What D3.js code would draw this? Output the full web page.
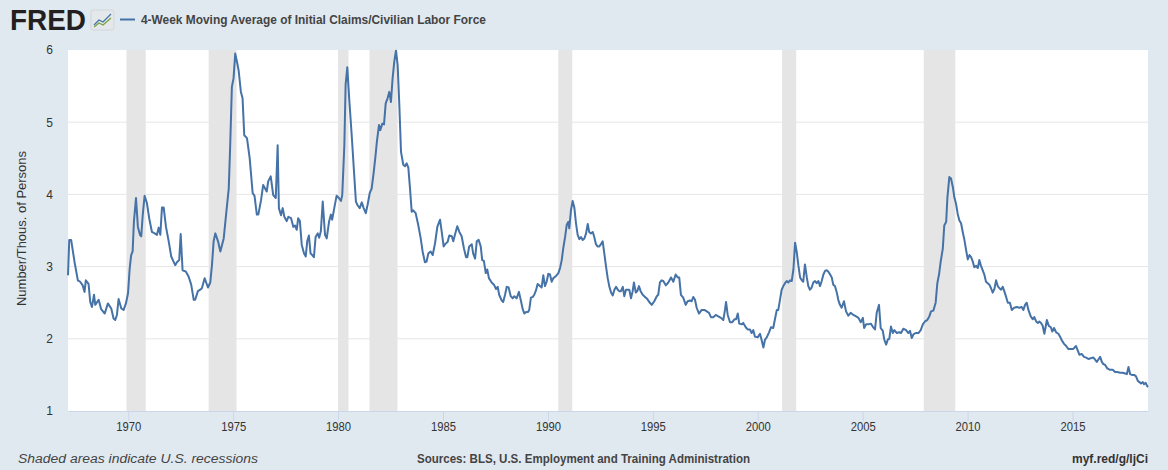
<!DOCTYPE html>
<html>
<head>
<meta charset="utf-8">
<script src="https://cdn.jsdelivr.net/npm/d3@7"></script>
<style>
  html, body { margin: 0; padding: 0; background: #e1e9f0; }
  svg { display: block; }
  text { font-family: "Liberation Sans", Arial, sans-serif; }
</style>
</head>
<body>
<div id="chart"></div>
<script>
// series: [decimal year, claims per thousand persons in labor force]
let claims1967 = [
  [1967.13,2.88],[1967.19,3.37],[1967.28,3.37],[1967.45,3.05],[1967.60,2.81],[1967.71,2.79],[1967.83,2.74],[1967.92,2.65],
  [1967.98,2.81],[1968.11,2.76],[1968.19,2.51],[1968.27,2.44],[1968.37,2.61],[1968.43,2.47],[1968.59,2.54],[1968.71,2.41],
  [1968.88,2.35],[1969.03,2.49],[1969.19,2.42],[1969.30,2.28],[1969.38,2.26],[1969.46,2.33],[1969.54,2.55],[1969.67,2.42],
  [1969.78,2.40],[1969.89,2.49],[1969.99,2.63],[1970.07,2.98],[1970.14,3.16],[1970.21,3.21],[1970.27,3.62],[1970.37,3.95],
  [1970.46,3.55],[1970.56,3.44],[1970.62,3.42],[1970.69,3.71],[1970.78,3.98],[1970.89,3.88],[1971.00,3.67],[1971.13,3.48],
  [1971.26,3.46],[1971.37,3.44],[1971.45,3.54],[1971.53,3.44],[1971.61,3.82],[1971.69,3.82],[1971.80,3.55],[1971.93,3.35],
  [1972.05,3.14],[1972.16,3.07],[1972.24,3.02],[1972.32,3.06],[1972.43,3.09],[1972.50,3.45],[1972.59,2.95],[1972.75,2.93],
  [1972.88,2.86],[1973.00,2.75],[1973.12,2.54],[1973.19,2.54],[1973.32,2.66],[1973.43,2.68],[1973.51,2.70],[1973.64,2.84],
  [1973.80,2.71],[1973.91,2.78],[1973.99,3.02],[1974.07,3.35],[1974.15,3.46],[1974.28,3.35],[1974.39,3.21],[1974.55,3.39],
  [1974.66,3.71],[1974.79,4.08],[1974.86,4.68],[1974.94,5.49],[1975.02,5.61],[1975.10,5.95],[1975.18,5.84],[1975.26,5.72],
  [1975.37,5.42],[1975.45,5.33],[1975.53,4.82],[1975.66,4.78],[1975.79,4.50],[1975.93,4.02],[1976.02,3.98],[1976.13,3.72],
  [1976.20,3.72],[1976.33,3.92],[1976.43,4.13],[1976.60,4.04],[1976.67,4.18],[1976.79,4.25],[1976.91,3.99],[1977.03,3.95],
  [1977.12,4.68],[1977.18,3.81],[1977.28,3.71],[1977.36,3.81],[1977.44,3.69],[1977.55,3.63],[1977.63,3.69],[1977.76,3.67],
  [1977.87,3.55],[1977.95,3.57],[1978.03,3.51],[1978.10,3.67],[1978.18,3.63],[1978.27,3.30],[1978.38,3.18],[1978.46,3.14],
  [1978.53,3.35],[1978.61,3.43],[1978.69,3.18],[1978.77,3.16],[1978.85,3.13],[1978.93,3.41],[1979.03,3.46],[1979.10,3.40],
  [1979.18,3.49],[1979.27,3.90],[1979.38,3.44],[1979.46,3.39],[1979.57,3.62],[1979.66,3.72],[1979.72,3.65],[1979.82,3.81],
  [1979.93,3.98]
];
let claims1980 = [
  [1980.04,3.95],[1980.14,3.91],[1980.20,3.99],[1980.30,4.68],[1980.36,5.52],[1980.44,5.76],[1980.53,5.33],[1980.65,4.82],
  [1980.76,4.31],[1980.85,3.90],[1980.93,3.85],[1981.03,3.81],[1981.13,3.89],[1981.22,3.81],[1981.32,3.74],[1981.41,3.86],
  [1981.51,4.02],[1981.60,4.08],[1981.70,4.31],[1981.79,4.55],[1981.85,4.73],[1981.95,4.96],[1982.01,4.89],[1982.11,4.98],
  [1982.19,4.97],[1982.27,5.26],[1982.36,5.33],[1982.44,5.42],[1982.52,5.28],[1982.60,5.61],[1982.68,5.84],[1982.76,5.99],
  [1982.84,5.79],[1982.92,5.24],[1983.00,4.59],[1983.11,4.41],[1983.19,4.39],[1983.27,4.43],[1983.35,4.37],[1983.43,4.08],
  [1983.51,3.76],[1983.58,3.78],[1983.70,3.74],[1983.82,3.58],[1983.94,3.39],[1984.03,3.21],[1984.14,3.06],[1984.22,3.07],
  [1984.30,3.18],[1984.41,3.21],[1984.51,3.16],[1984.62,3.32],[1984.73,3.55],[1984.86,3.65],[1984.94,3.48],[1985.03,3.28],
  [1985.13,3.32],[1985.22,3.34],[1985.30,3.43],[1985.42,3.42],[1985.49,3.35],[1985.57,3.44],[1985.68,3.56],[1985.78,3.48],
  [1985.89,3.42],[1986.00,3.25],[1986.10,3.13],[1986.16,3.13],[1986.25,3.28],[1986.37,3.31],[1986.44,3.18],[1986.53,3.11],
  [1986.61,3.35],[1986.70,3.37],[1986.80,3.28],[1986.87,3.09],[1986.95,3.08],[1987.04,2.91],[1987.11,2.96],[1987.19,2.84],
  [1987.32,2.78],[1987.43,2.75],[1987.53,2.69],[1987.61,2.72],[1987.68,2.61],[1987.80,2.53],[1987.87,2.51],[1987.96,2.61],
  [1988.04,2.72],[1988.13,2.71],[1988.23,2.59],[1988.32,2.56],[1988.40,2.59],[1988.51,2.56],[1988.62,2.65],[1988.72,2.52],
  [1988.80,2.41],[1988.88,2.35],[1988.96,2.37],[1989.05,2.37],[1989.11,2.40],[1989.19,2.57],[1989.28,2.58],[1989.35,2.61],
  [1989.43,2.67],[1989.51,2.76],[1989.62,2.73],[1989.70,2.71],[1989.78,2.88],[1989.86,2.73],[1989.94,2.79]
];
let claims1990 = [
  [1990.02,2.90],[1990.10,2.89],[1990.18,2.79],[1990.26,2.84],[1990.39,2.87],[1990.50,2.91],[1990.58,2.98],[1990.66,3.09],
  [1990.73,3.25],[1990.82,3.41],[1990.90,3.58],[1990.97,3.62],[1991.02,3.53],[1991.10,3.78],[1991.18,3.91],[1991.26,3.82],
  [1991.34,3.60],[1991.42,3.44],[1991.50,3.38],[1991.58,3.41],[1991.66,3.37],[1991.74,3.39],[1991.82,3.46],[1991.90,3.59],
  [1991.97,3.48],[1992.05,3.46],[1992.14,3.48],[1992.21,3.41],[1992.29,3.31],[1992.37,3.28],[1992.45,3.28],[1992.53,3.31],
  [1992.61,3.35],[1992.69,3.18],[1992.77,3.00],[1992.85,2.84],[1992.93,2.72],[1993.01,2.64],[1993.09,2.60],[1993.17,2.68],
  [1993.25,2.72],[1993.33,2.68],[1993.40,2.66],[1993.48,2.66],[1993.57,2.72],[1993.64,2.59],[1993.72,2.68],[1993.80,2.68],
  [1993.88,2.68],[1993.96,2.56],[1994.04,2.66],[1994.10,2.78],[1994.19,2.64],[1994.26,2.66],[1994.34,2.73],[1994.42,2.66],
  [1994.52,2.61],[1994.63,2.58],[1994.74,2.55],[1994.83,2.51],[1994.95,2.47],[1995.07,2.52],[1995.19,2.59],[1995.26,2.61],
  [1995.34,2.78],[1995.42,2.81],[1995.50,2.80],[1995.62,2.74],[1995.74,2.78],[1995.87,2.85],[1995.98,2.79],[1996.09,2.89],
  [1996.19,2.85],[1996.26,2.85],[1996.34,2.61],[1996.45,2.57],[1996.57,2.47],[1996.66,2.52],[1996.77,2.53],[1996.85,2.52],
  [1996.93,2.58],[1997.01,2.54],[1997.09,2.43],[1997.20,2.35],[1997.33,2.40],[1997.46,2.40],[1997.57,2.38],[1997.68,2.36],
  [1997.77,2.30],[1997.88,2.30],[1998.00,2.33],[1998.12,2.31],[1998.25,2.29],[1998.36,2.26],[1998.44,2.40],[1998.49,2.51],
  [1998.57,2.33],[1998.68,2.23],[1998.79,2.23],[1998.89,2.27],[1998.97,2.27],[1999.05,2.35],[1999.12,2.21],[1999.24,2.20],
  [1999.31,2.22],[1999.43,2.16],[1999.52,2.13],[1999.63,2.13],[1999.71,2.08],[1999.79,2.12],[1999.87,2.03]
];
let claims2000 = [
  [2000.00,2.02],[2000.11,2.07],[2000.19,1.98],[2000.27,1.88],[2000.35,1.99],[2000.43,2.02],[2000.54,2.09],[2000.63,2.16],
  [2000.74,2.15],[2000.82,2.27],[2000.91,2.40],[2000.98,2.40],[2001.06,2.54],[2001.14,2.68],[2001.22,2.73],[2001.30,2.77],
  [2001.38,2.80],[2001.46,2.78],[2001.54,2.81],[2001.62,2.80],[2001.70,2.96],[2001.78,3.33],[2001.86,3.20],[2001.94,3.01],
  [2002.02,2.85],[2002.10,2.81],[2002.17,2.79],[2002.25,3.03],[2002.34,2.85],[2002.41,2.73],[2002.49,2.68],[2002.57,2.71],
  [2002.65,2.78],[2002.73,2.80],[2002.81,2.77],[2002.89,2.80],[2002.97,2.73],[2003.05,2.80],[2003.13,2.89],[2003.21,2.94],
  [2003.29,2.95],[2003.37,2.93],[2003.45,2.89],[2003.53,2.85],[2003.60,2.75],[2003.68,2.73],[2003.77,2.64],[2003.84,2.54],
  [2003.92,2.47],[2004.00,2.43],[2004.11,2.52],[2004.21,2.38],[2004.32,2.32],[2004.43,2.36],[2004.56,2.33],[2004.69,2.31],
  [2004.80,2.29],[2004.91,2.23],[2005.01,2.29],[2005.07,2.15],[2005.16,2.20],[2005.27,2.20],[2005.39,2.21],[2005.48,2.17],
  [2005.59,2.13],[2005.67,2.36],[2005.78,2.47],[2005.86,2.15],[2005.96,2.11],[2006.03,1.99],[2006.12,1.92],[2006.20,1.99],
  [2006.27,2.00],[2006.35,2.17],[2006.44,2.08],[2006.51,2.12],[2006.63,2.08],[2006.74,2.09],[2006.83,2.08],[2006.94,2.14],
  [2007.07,2.12],[2007.18,2.08],[2007.26,2.11],[2007.34,2.01],[2007.42,2.06],[2007.53,2.08],[2007.66,2.08],[2007.77,2.12],
  [2007.87,2.20],[2007.97,2.24],[2008.08,2.26],[2008.18,2.31],[2008.26,2.38],[2008.37,2.39],[2008.48,2.50],[2008.56,2.77],
  [2008.64,2.89],[2008.72,3.07],[2008.82,3.25],[2008.89,3.57],[2008.98,3.62],[2009.04,3.96],[2009.13,4.24],[2009.21,4.22],
  [2009.30,4.10],[2009.37,3.96],[2009.45,3.87],[2009.53,3.73],[2009.61,3.64],[2009.69,3.60],[2009.77,3.48],[2009.85,3.37],
  [2009.93,3.23]
];
let claims2010 = [
  [2010.01,3.10],[2010.09,3.16],[2010.17,3.13],[2010.25,3.07],[2010.32,2.99],[2010.41,3.01],[2010.49,2.98],[2010.56,3.09],
  [2010.64,3.01],[2010.72,2.95],[2010.80,2.89],[2010.88,2.79],[2010.96,2.77],[2011.04,2.75],[2011.12,2.70],[2011.20,2.64],
  [2011.28,2.69],[2011.36,2.81],[2011.44,2.73],[2011.52,2.70],[2011.60,2.68],[2011.68,2.72],[2011.75,2.66],[2011.84,2.58],
  [2011.92,2.50],[2012.02,2.50],[2012.11,2.40],[2012.22,2.43],[2012.35,2.44],[2012.47,2.43],[2012.58,2.44],[2012.66,2.40],
  [2012.74,2.47],[2012.82,2.50],[2012.90,2.40],[2013.01,2.31],[2013.11,2.27],[2013.18,2.30],[2013.27,2.24],[2013.35,2.22],
  [2013.42,2.24],[2013.50,2.22],[2013.58,2.18],[2013.66,2.07],[2013.78,2.26],[2013.87,2.18],[2013.97,2.16],[2014.04,2.10],
  [2014.12,2.15],[2014.22,2.09],[2014.33,2.07],[2014.41,2.03],[2014.49,1.98],[2014.60,1.93],[2014.70,1.90],[2014.80,1.86],
  [2014.92,1.86],[2015.04,1.86],[2015.17,1.90],[2015.25,1.84],[2015.33,1.78],[2015.44,1.79],[2015.55,1.75],[2015.65,1.74],
  [2015.76,1.72],[2015.87,1.73],[2016.00,1.74],[2016.08,1.71],[2016.16,1.68],[2016.23,1.71],[2016.32,1.75],[2016.40,1.68],
  [2016.47,1.65],[2016.55,1.64],[2016.66,1.59],[2016.79,1.57],[2016.92,1.57],[2017.03,1.54],[2017.14,1.54],[2017.27,1.53],
  [2017.40,1.53],[2017.51,1.52],[2017.59,1.51],[2017.67,1.61],[2017.75,1.51],[2017.83,1.50],[2017.94,1.50],[2018.03,1.48],
  [2018.11,1.42],[2018.19,1.40],[2018.27,1.38],[2018.35,1.40],[2018.41,1.37],[2018.49,1.39],[2018.57,1.34],[2018.60,1.33]
];

let recessions = [
  ['1969-12-01', '1970-11-01'], ['1973-11-01', '1975-03-01'], ['1980-01-01', '1980-07-01'],
  ['1981-07-01', '1982-11-01'], ['1990-07-01', '1991-03-01'], ['2001-03-01', '2001-11-01'],
  ['2007-12-01', '2009-06-01']
];
let yTicks = [1, 2, 3, 4, 5, 6];
let seriesTitle = '4-Week Moving Average of Initial Claims/Civilian Labor Force';
let yTitle = 'Number/Thous. of Persons';

let W = 1168, H = 470;
let margin = {top: 50, left: 68, right: 20, bottom: 59};
let plotW = W - margin.left - margin.right;
let plotH = H - margin.top - margin.bottom;

let decYear = function(y){
  let yr = Math.floor(y);
  let s = Date.UTC(yr, 0, 1), e = Date.UTC(yr + 1, 0, 1);
  return new Date(s + (y - yr) * (e - s));
};
let parse = d3.utcParse('%Y-%m-%d');

let data = claims1967.concat(claims1980, claims1990, claims2000, claims2010)
  .map(d => ({date: decYear(d[0]), value: d[1]}));

let svg = d3.select('#chart').append('svg').attr('width', W).attr('height', H);
svg.append('rect').attr('width', W).attr('height', H).attr('fill', '#e1e9f0');

let x = d3.scaleUtc().domain(d3.extent(data, d => d.date)).range([0, plotW]);
let y = d3.scaleLinear().domain([1, 6]).range([plotH, 0]);

let g = svg.append('g').attr('transform', 'translate(' + [margin.left, margin.top] + ')');
g.append('rect').attr('width', plotW).attr('height', plotH).attr('fill', '#ffffff');

// recession shading
g.selectAll('.rec').data(recessions).enter().append('rect').attr('class', 'rec')
  .attr('x', d => x(parse(d[0])))
  .attr('width', d => x(parse(d[1])) - x(parse(d[0])))
  .attr('y', 0).attr('height', plotH)
  .attr('fill', '#e5e5e5');

// grid
g.selectAll('.grid').data(yTicks.filter(d => d > 1 && d < 6)).enter().append('line').attr('class', 'grid')
  .attr('x1', 0).attr('x2', plotW)
  .attr('y1', d => y(d)).attr('y2', d => y(d))
  .attr('stroke', '#e6e6e6').attr('stroke-width', 1);

// x axis
let xAxis = g.append('g').attr('transform', 'translate(0,' + plotH + ')')
  .call(d3.axisBottom(x).ticks(d3.utcYear.every(5)).tickFormat(d3.utcFormat('%Y')).tickSize(10).tickSizeOuter(0));
xAxis.select('.domain').attr('stroke', '#ccd6eb');
xAxis.selectAll('.tick line').attr('stroke', '#ccd6eb');
xAxis.selectAll('.tick text').attr('fill', '#333').attr('font-size', 12).attr('dy', '0.75em')
  .attr('y', 11).attr('textLength', 25).attr('lengthAdjust', 'spacingAndGlyphs')
  .attr('font-family', '"Liberation Sans", Arial, sans-serif');

// y axis labels
let yAxis = g.append('g')
  .call(d3.axisLeft(y).tickValues(yTicks).tickFormat(d3.format('d')).tickSize(0));
yAxis.select('.domain').remove();
yAxis.selectAll('.tick text').attr('fill', '#333').attr('font-size', 12).attr('x', -15)
  .attr('font-family', '"Liberation Sans", Arial, sans-serif');

// series line
let line = d3.line().x(d => x(d.date)).y(d => y(d.value));
g.append('path').datum(data)
  .attr('fill', 'none').attr('stroke', '#4572a7').attr('stroke-width', 2)
  .attr('stroke-linejoin', 'round').attr('d', line);

// y title
svg.append('text')
  .attr('transform', 'translate(26,' + (margin.top + plotH / 2 - 2) + ') rotate(-90)')
  .attr('text-anchor', 'middle').attr('font-size', 12).attr('fill', '#333')
  .attr('textLength', 155).attr('lengthAdjust', 'spacingAndGlyphs')
  .text(yTitle);

// header: FRED logo + legend
let head = svg.append('g');
head.append('text').attr('x', 10).attr('y', 30).attr('font-size', 29).attr('font-weight', 900)
  .attr('fill', '#231f20').attr('textLength', 76).attr('lengthAdjust', 'spacingAndGlyphs')
  .attr('font-family', '"Liberation Sans", Arial, sans-serif').text('FRED');
let icon = head.append('g').attr('transform', 'translate(91,10)');
icon.append('rect').attr('width', 23).attr('height', 20).attr('rx', 2).attr('fill', '#e4e8ea').attr('stroke', '#cfd6da');
icon.append('path').attr('d', 'M3,15 L8,10 L12,12 L20,4').attr('fill', 'none').attr('stroke', '#4572a7').attr('stroke-width', 1.3);
icon.append('path').attr('d', 'M3,17 L8,13 L12,15 L20,8').attr('fill', 'none').attr('stroke', '#7aa33e').attr('stroke-width', 1.3);
head.append('line').attr('x1', 120).attr('x2', 135).attr('y1', 19.5).attr('y2', 19.5)
  .attr('stroke', '#4572a7').attr('stroke-width', 2);
head.append('text').attr('x', 141).attr('y', 24).attr('font-size', 12).attr('font-weight', 'bold')
  .attr('fill', '#444').attr('textLength', 345).attr('lengthAdjust', 'spacingAndGlyphs')
  .text(seriesTitle);

// footer
svg.append('text').attr('x', 18).attr('y', 463).attr('font-size', 12).attr('font-style', 'italic')
  .attr('fill', '#444').attr('textLength', 240).attr('lengthAdjust', 'spacingAndGlyphs')
  .text('Shaded areas indicate U.S. recessions');
svg.append('text').attr('x', 417).attr('y', 463).attr('font-size', 12).attr('font-weight', 'bold')
  .attr('fill', '#444').attr('textLength', 333).attr('lengthAdjust', 'spacingAndGlyphs')
  .text('Sources: BLS, U.S. Employment and Training Administration');
svg.append('text').attr('x', 1148).attr('y', 463).attr('font-size', 12).attr('font-weight', 'bold')
  .attr('fill', '#333').attr('text-anchor', 'end')
  .text('myf.red/g/ljCi');
</script>
</body>
</html>
